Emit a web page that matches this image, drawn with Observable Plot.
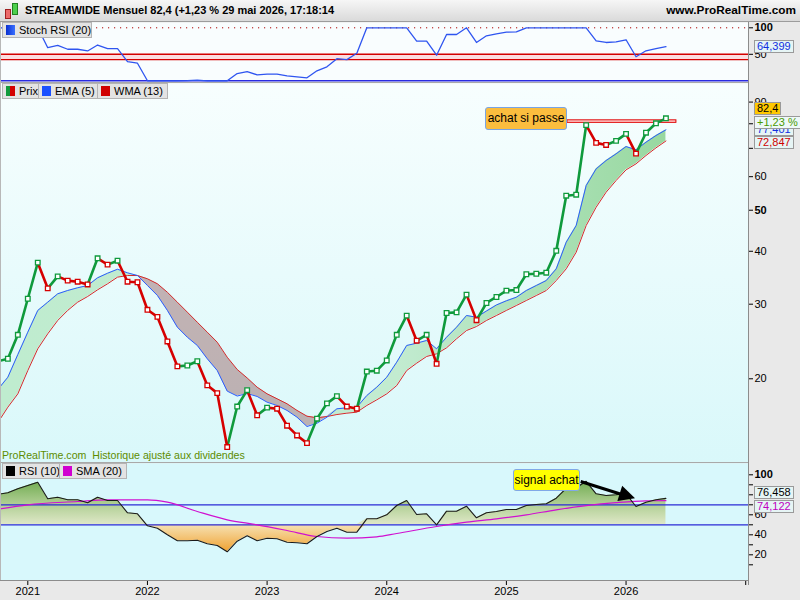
<!DOCTYPE html>
<html><head><meta charset="utf-8">
<script src="https://cdn.jsdelivr.net/npm/d3@7"></script>
<script src="https://cdn.jsdelivr.net/npm/@observablehq/plot@0.6"></script>
<style>
html,body{margin:0;padding:0;background:#e9e9e9;}
#root{position:relative;width:800px;height:600px;overflow:hidden;background:#e9e9e9;font-family:"Liberation Sans",Arial,sans-serif;}
.hl{position:absolute;background:#a9a9a9;}
.leg{position:absolute;height:16px;background:#e3e3e3;border:1px solid #b4b4b4;font-size:11px;line-height:14px;padding:0 4px 0 3px;box-sizing:border-box;color:#000;white-space:nowrap;}
.sw{display:inline-block;width:9px;height:10px;vertical-align:-1px;margin-right:4px;}
.val{position:absolute;left:754px;font-size:11px;line-height:11px;padding:0 2px;border:1px solid #9a9a9a;background:#e6f5f5;white-space:nowrap;}
.note{position:absolute;font-size:12px;text-align:center;border-radius:3px;box-sizing:border-box;white-space:nowrap;}
</style></head><body><div id="root"></div><script>
// ---------- data (monthly, 2020-10 .. 2026-05) ----------
const months = d3.utcMonth.range(new Date(Date.UTC(2020,9,1)), new Date(Date.UTC(2026,5,1))).map(d3.utcFormat("%Y-%m"));
const price = [22.0,22.3,25.4,
 30.9,37.6,32.7,34.9,34.1,33.9,33.4,38.5,37.2,38.0,33.9,33.8,
 29.1,28.0,24.5,21.4,21.5,22.0,19.3,18.5,13.8,17.2,18.8,16.4,
 17.1,17.0,15.5,14.7,14.1,16.1,17.5,18.2,17.2,17.0,20.8,20.9,
 22.1,25.4,28.2,24.6,25.4,21.7,28.6,28.7,31.6,27.5,30.2,31.2,
 32.3,32.4,35.3,35.4,35.6,40.1,54.1,54.4,79.4,72.1,71.3,72.9,
 75.7,68.0,76.2,80.2,82.4];
const ema = [18.87,20.17,22.82,
 25.77,29.0,30.33,31.74,32.32,32.80,33.21,34.63,35.50,36.28,35.58,35.06,
 33.21,31.45,29.0,26.47,25.07,23.97,22.30,20.92,18.70,18.21,18.46,18.17,
 17.61,17.30,16.84,16.23,15.43,15.71,16.23,16.99,17.08,17.14,18.26,19.11,
 20.17,21.89,23.97,24.27,24.63,23.54,25.07,26.47,28.21,27.95,28.91,29.87,
 30.56,31.16,32.32,33.21,34.12,36.36,42.02,46.01,57.18,62.61,65.50,67.93,
 70.68,69.43,72.36,75.03,77.40];
const wma = [15.77,17.14,18.43,
 20.92,23.54,25.54,27.46,29.0,30.33,31.28,32.44,33.52,34.75,35.06,35.06,
 34.44,33.52,32.01,30.33,28.73,27.20,25.77,24.40,22.49,21.04,20.09,19.11,
 18.43,17.94,17.46,16.84,16.32,16.18,16.29,16.47,16.59,16.68,17.30,17.84,
 18.43,19.28,20.92,21.77,22.58,22.91,23.67,24.86,26.0,26.57,27.46,28.21,
 29.0,29.79,30.61,31.45,32.32,34.12,36.36,39.80,46.01,50.82,55.14,58.76,
 62.27,64.34,67.31,70.18,72.847];
const rsi = [80.5,82.0,86.0,
 89.3,92.6,76.0,77.6,75.0,75.0,72.0,77.6,74.3,74.3,62.0,61.0,
 49.0,46.6,40.0,34.0,34.0,34.5,31.0,29.3,23.0,33.6,39.0,34.0,
 36.6,36.0,32.6,32.0,31.0,38.3,43.3,46.6,42.6,42.6,56.0,56.0,
 60.0,69.3,74.3,60.3,61.0,50.0,63.6,63.6,68.6,57.0,62.0,63.3,
 65.3,65.3,69.3,70.3,71.0,76.6,86.5,87.0,93.5,81.0,79.3,80.0,
 81.0,68.3,72.6,75.0,76.458];
const stoch = [100,100,100,
 100,100,62.5,67.0,59.5,59.5,56.3,67.5,60.6,60.6,36.2,33.2,
 0,0,0,0,0.3,1.2,0,0,0,13.7,17.4,11.3,
 12.6,12.6,9.4,7.5,5.6,18.8,26.3,41.8,40.0,52.0,100,100,
 100,100,100,74.7,74.7,48.3,87.4,87.4,100,72.3,84.9,88.7,
 91.7,92.5,100,100,100,100,100,100,100,75.5,72.3,73.6,
 77.4,45.3,56.6,60.9,64.399];
const smaMonths = ["2020-10","2021-01","2021-06","2021-09","2022-01","2022-03","2022-06","2022-09","2022-12","2023-03","2023-06","2023-09","2023-12","2024-02","2024-06","2024-09","2024-12","2025-03","2025-06","2025-09","2025-12","2026-03","2026-05"];
const smaValues = [65.6,70.0,73.3,75.0,75.0,72.6,63.3,55.0,50.0,44.3,38.3,36.6,38.0,41.3,48.3,52.6,56.0,60.0,65.0,69.2,72.2,74.0,74.122];
const yearLabels = ["2021","2022","2023","2024","2025","2026",""];
const priceTicks = [20,30,40,50,60,90];
const priceMinor = [70,80];
const stochTicks = [50,100];
const stochBand = [40,50];
const rsiTicks = [20,40,60,100];
const rsiMinor = [10,30,50,70,80,90];
const rsiLevels = [50,70];
const achatLevel = {a:54.12, b:65.05, lo:80.4, hi:81.5};
const arrowSig = {i1:55.45, v1:93.3, i2:60.95, v2:76};

// ---------- helpers ----------
const root = document.getElementById("root");
const idx = s => (+s.slice(0,4) - 2021) * 12 + (+s.slice(5,7) - 1);
const rows = months.map((m,k)=>({i:idx(m), price:price[k], ema:ema[k], wma:wma[k], rsi:rsi[k], stoch:stoch[k], up: k===0 || price[k] >= price[k-1]}));
const segs = rows.slice(1).map((r,k)=>({x1:rows[k].i, y1:rows[k].price, x2:r.i, y2:r.price, up:r.up}));
const smaRows = smaMonths.map((m,k)=>({i:idx(m), v:smaValues[k]}));
const yearIdx = yearLabels.map((_,k)=>k*12);
const X = {type:"linear", domain:[-2.738, 72.28], range:[0,748]};
const base = {width:800, marginLeft:0, marginRight:52,
  style:{fontFamily:"Liberation Sans, Arial, sans-serif", fontSize:"11px", background:"transparent", overflow:"visible", color:"#000"}};
const GREEN="#0f9a3c", RED="#d60000";
function place(svg, top){ svg.style.position="absolute"; svg.style.top=top+"px"; svg.style.left="0px"; root.appendChild(svg); return svg; }
function bold(svg, labels){ d3.select(svg).selectAll("text").filter(function(){return labels.includes(this.textContent.trim());}).attr("font-weight","bold"); }
function html(tag, cls, style, text){ const e=document.createElement(tag); if(cls) e.className=cls; Object.assign(e.style, style||{}); if(text!=null) e.innerHTML=text; root.appendChild(e); return e; }

// ---------- Stoch RSI panel ----------
const stochPlot = Plot.plot({...base, height:61, marginTop:0, marginBottom:0,
  x:{...X, axis:null}, y:{domain:[0,100], range:[58.3,5.3]},
  marks:[
    Plot.frame({fill:"#f9fdfe", stroke:"none"}),
    Plot.rect([{a:X.domain[0], b:X.domain[1], lo:stochBand[0], hi:stochBand[1]}],{x1:"a",x2:"b",y1:"lo",y2:"hi",fill:"#fbdde0"}),
    Plot.ruleY(stochBand,{stroke:"#d40000",strokeWidth:1.4}),
    Plot.ruleY([100],{stroke:"#b00000",strokeDasharray:"1.2,4.8"}),
    Plot.ruleY([0],{stroke:"#2a2ae0",strokeWidth:1.4}),
    Plot.line(rows,{x:"i",y:"stoch",stroke:"#2f55f0",strokeWidth:1.3,clip:true}),
    Plot.axisY(stochTicks,{anchor:"right",tickSize:4,tickPadding:2,label:null})
  ]});
bold(stochPlot,["100"]);
place(stochPlot,22);

// ---------- Price panel ----------
const pricePlot = Plot.plot({...base, height:380, marginTop:0, marginBottom:0,
  x:{...X, axis:null}, y:{type:"log", domain:[12.62,100], range:[380,-0.8]},
  marks:[
    Plot.frame({fill:"url(#pbg)", stroke:"none"}),
    Plot.areaY(rows,{x:"i", y1:"wma", y2:d=>Math.max(d.ema,d.wma), fill:"url(#gfill)", clip:true}),
    Plot.areaY(rows,{x:"i", y1:"ema", y2:d=>Math.max(d.ema,d.wma), fill:"#9c6a6c", fillOpacity:0.5, clip:true}),
    Plot.line(rows,{x:"i",y:"wma",stroke:"#d42a2a",strokeWidth:1,clip:true}),
    Plot.line(rows,{x:"i",y:"ema",stroke:"#2a5cff",strokeWidth:1,clip:true}),
    Plot.rect([achatLevel],{x1:"a",x2:"b",y1:"lo",y2:"hi",fill:"#ffd4d4",stroke:"#e00000",strokeWidth:1}),
    Plot.link(segs.filter(d=>d.up),{x1:"x1",y1:"y1",x2:"x2",y2:"y2",stroke:GREEN,strokeWidth:2.6,strokeLinecap:"round",clip:true}),
    Plot.link(segs.filter(d=>!d.up),{x1:"x1",y1:"y1",x2:"x2",y2:"y2",stroke:RED,strokeWidth:2.6,strokeLinecap:"round",clip:true}),
    Plot.dot(rows.filter(d=>d.up),{x:"i",y:"price",symbol:"square",r:2.6,fill:"white",stroke:GREEN,strokeWidth:1.3,clip:true}),
    Plot.dot(rows.filter(d=>!d.up),{x:"i",y:"price",symbol:"square",r:2.6,fill:"white",stroke:RED,strokeWidth:1.3,clip:true}),
    Plot.axisY(priceMinor,{anchor:"right",tickSize:4,tickFormat:()=>"",label:null}),
    Plot.axisY(priceTicks,{anchor:"right",tickSize:4,tickPadding:2,label:null,tickFormat:d=>String(d)})
  ]});
d3.select(pricePlot).insert("defs",":first-child").html(
  '<linearGradient id="pbg" x1="0" y1="0" x2="0" y2="1"><stop offset="0" stop-color="#f7fefe"/><stop offset="1" stop-color="#d9f8fa"/></linearGradient>'+
  '<linearGradient id="gfill" x1="0" y1="0" x2="1" y2="0"><stop offset="0" stop-color="#bfeccf"/><stop offset="0.6" stop-color="#c2ebd0"/><stop offset="1" stop-color="#98d8a0"/></linearGradient>');
bold(pricePlot,["50"]);
place(pricePlot,83);

// ---------- RSI panel ----------
const shaftEnd = {i: arrowSig.i1 + (arrowSig.i2-arrowSig.i1)*0.78, v: arrowSig.v1 + (arrowSig.v2-arrowSig.v1)*0.78};
const rsiPlot = Plot.plot({...base, height:137, marginTop:0, marginBottom:20,
  x:{...X}, y:{domain:[0,100], range:[111.3,11.3]},
  marks:[
    Plot.frame({fill:"#d8f8fc", stroke:"none"}),
    Plot.areaY(rows,{x:"i", y1:()=>50, y2:d=>Math.max(d.rsi,50), fill:"url(#rgreen)", clip:true}),
    Plot.areaY(rows,{x:"i", y1:d=>Math.min(d.rsi,50), y2:()=>50, fill:"url(#rorange)", clip:true}),
    Plot.ruleY(rsiLevels,{stroke:"#2b2bd6",strokeWidth:1.2}),
    Plot.line(smaRows,{x:"i",y:"v",curve:"monotone-x",stroke:"#d010d0",strokeWidth:1.2,clip:true}),
    Plot.line(rows,{x:"i",y:"rsi",stroke:"#1a1a1a",strokeWidth:1.1,clip:true}),
    Plot.link([{a:arrowSig.i1,b:arrowSig.v1,c:shaftEnd.i,d:shaftEnd.v}],{x1:"a",y1:"b",x2:"c",y2:"d",stroke:"#000",strokeWidth:3}),
    Plot.axisY(rsiMinor,{anchor:"right",tickSize:4,tickFormat:()=>"",label:null}),
    Plot.axisY(rsiTicks,{anchor:"right",tickSize:4,tickPadding:2,label:null}),
    Plot.axisX(yearIdx,{anchor:"bottom",tickSize:5,tickPadding:2,label:null,fontSize:11,tickFormat:(i)=>yearLabels[i/12]})
  ]});
{
  const sx=rsiPlot.scale("x"), sy=rsiPlot.scale("y");
  const g0=sy.apply(96), g1=sy.apply(50), o1=sy.apply(22);
  d3.select(rsiPlot).insert("defs",":first-child").html(
    `<linearGradient id="rgreen" gradientUnits="userSpaceOnUse" x1="0" y1="${g0}" x2="0" y2="${g1}"><stop offset="0" stop-color="#6aa84a"/><stop offset="0.5" stop-color="#a9cb8c"/><stop offset="1" stop-color="#dfe8c8"/></linearGradient>`+
    `<linearGradient id="rorange" gradientUnits="userSpaceOnUse" x1="0" y1="${g1}" x2="0" y2="${o1}"><stop offset="0" stop-color="#f6e2b4"/><stop offset="1" stop-color="#f0a02e"/></linearGradient>`);
  const x1=sx.apply(arrowSig.i1), y1=sy.apply(arrowSig.v1), x2=sx.apply(arrowSig.i2), y2=sy.apply(arrowSig.v2);
  const L=Math.hypot(x2-x1,y2-y1), ux=(x2-x1)/L, uy=(y2-y1)/L, hl=16, hw=8;
  const bx=x2-ux*hl, by=y2-uy*hl;
  d3.select(rsiPlot).append("path").attr("d",`M${x2},${y2}L${bx-uy*hw},${by+ux*hw}L${bx+uy*hw},${by-ux*hw}Z`).attr("fill","#000");
}
bold(rsiPlot,["100"]);
place(rsiPlot,463);

// ---------- chrome: header, separators, legends, labels ----------
html("div","",{left:"0",top:"0",width:"800px",height:"21px",background:"linear-gradient(#f6f6f6,#dadada)",borderBottom:"1px solid #9c9c9c",position:"absolute"});
html("div","",{position:"absolute",left:"5px",top:"9px",width:"4px",height:"8px",background:"#ec6a6a",border:"1px solid #a02020"});
html("div","",{position:"absolute",left:"12px",top:"3px",width:"4px",height:"10px",background:"#4ccf4c",border:"1px solid #208020"});
html("div","",{position:"absolute",left:"25px",top:"3px",fontSize:"11px",fontWeight:"bold",lineHeight:"15px",whiteSpace:"nowrap"},"STREAMWIDE Mensuel 82,4 (+1,23 % 29 mai 2026, 17:18:14");
html("div","",{position:"absolute",right:"4px",top:"3px",fontSize:"11.8px",fontWeight:"bold",lineHeight:"15px",whiteSpace:"nowrap"},"www.ProRealTime.com");
html("div","hl",{left:"0",top:"82px",width:"748px",height:"1px"});
html("div","hl",{left:"0",top:"462px",width:"748px",height:"1px"});
html("div","hl",{left:"0",top:"580px",width:"748px",height:"1px",background:"#8c8c8c"});
html("div","hl",{left:"748px",top:"22px",width:"1px",height:"563px",background:"#8c8c8c"});
html("div","hl",{left:"0",top:"22px",width:"1px",height:"558px",background:"#b8b8b8"});
html("div","leg",{left:"2px",top:"22px",width:"90px"},'<span class="sw" style="background:linear-gradient(90deg,#0a30d0,#3a70ff)"></span>Stoch RSI (20)');
html("div","leg",{left:"2px",top:"83px",width:"37px"},'<span class="sw" style="background:linear-gradient(90deg,#119a3c 50%,#d40000 50%)"></span>Prix');
html("div","leg",{left:"38px",top:"83px",width:"60px"},'<span class="sw" style="background:#1a50ff"></span>EMA (5)');
html("div","leg",{left:"97px",top:"83px",width:"71px"},'<span class="sw" style="background:#d00000"></span>WMA (13)');
html("div","leg",{left:"2px",top:"463px",width:"58px"},'<span class="sw" style="background:#000"></span>RSI (10)');
html("div","leg",{left:"59px",top:"463px",width:"68px"},'<span class="sw" style="background:#d000d0"></span>SMA (20)');
html("div","",{position:"absolute",left:"2px",top:"449px",fontSize:"10.6px",color:"#5d8c00",whiteSpace:"nowrap"},"ProRealTime.com&nbsp; Historique ajusté aux dividendes");
html("div","note",{left:"485px",top:"107px",width:"82px",height:"23px",lineHeight:"21px",background:"#fbbd3e",border:"1px solid #78a4e4"},"achat si passe");
html("div","note",{left:"513px",top:"469px",width:"67px",height:"22px",lineHeight:"20px",background:"#ffff00",border:"1px solid #80a8e8"},"signal achat");
html("div","val",{top:"40px",color:"#1030e0"},"64,399");
html("div","val",{top:"102px",background:"#ffc800",color:"#000"},"82,4");
html("div","val",{top:"123px",color:"#1030e0"},"77,401");
html("div","val",{top:"116px",color:"#4a9a00",background:"#eef8f8"},"+1,23 %");
html("div","val",{top:"136px",color:"#d00000"},"72,847");
html("div","val",{top:"486px",color:"#000"},"76,458");
html("div","val",{top:"500px",color:"#c000c0"},"74,122");
</script></body></html>
